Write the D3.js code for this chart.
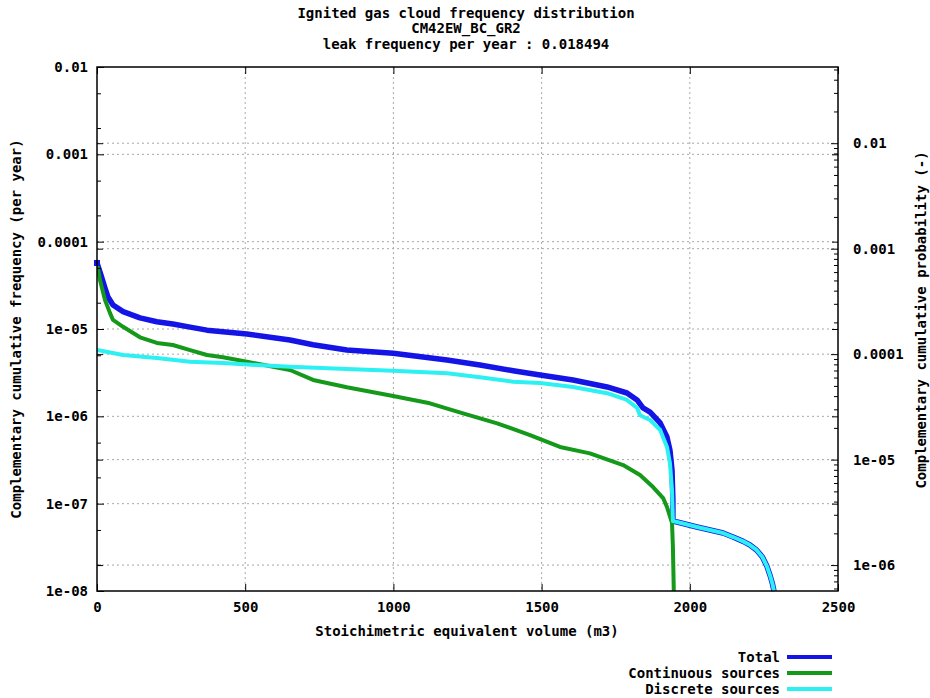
<!DOCTYPE html>
<html>
<head>
<meta charset="UTF-8">
<style>
body { margin: 0; background: #fff; }
text { font-family: "DejaVu Sans Mono", monospace; font-weight: bold; fill: #000; }
</style>
</head>
<body>
<svg width="930" height="698"></svg>
<script src="https://cdn.jsdelivr.net/npm/d3@7"></script>
<script>

// volume (m3), cumulative frequency (per year)
var totalData = [
  [0, 5.7e-5], [10, 4.5e-5], [27, 2.94e-5], [37, 2.32e-5], [54, 1.88e-5], [88, 1.58e-5],
  [145, 1.34e-5], [202, 1.21e-5], [256, 1.14e-5], [314, 1.05e-5], [371, 9.7e-6],
  [506, 8.77e-6], [651, 7.48e-6], [729, 6.6e-6], [843, 5.75e-6], [999, 5.27e-6], [1181, 4.42e-6],
  [1292, 3.87e-6], [1404, 3.33e-6], [1495, 2.97e-6], [1606, 2.61e-6], [1721, 2.17e-6],
  [1788, 1.85e-6], [1822, 1.54e-6], [1842, 1.25e-6], [1866, 1.12e-6], [1900, 8.4e-7],
  [1923, 5.8e-7], [1933, 4.11e-7], [1940, 2.43e-7], [1943, 1.1e-7], [1943, 6.32e-8],
  [1957, 6.17e-8], [2024, 5.41e-8], [2068, 4.99e-8], [2112, 4.61e-8], [2146, 4.15e-8],
  [2180, 3.7e-8], [2203, 3.36e-8], [2225, 2.95e-8], [2245, 2.45e-8], [2260, 1.93e-8],
  [2271, 1.5e-8], [2279, 1.2e-8], [2284, 1e-8]
];

var continuousData = [
  [0, 5.7e-5], [10, 3.64e-5], [27, 2.15e-5], [44, 1.52e-5], [54, 1.27e-5], [88, 1.06e-5],
  [145, 8.03e-6], [202, 6.92e-6], [256, 6.56e-6], [314, 5.74e-6], [371, 5.04e-6],
  [425, 4.74e-6], [506, 4.22e-6], [594, 3.7e-6], [651, 3.39e-6], [729, 2.61e-6],
  [843, 2.15e-6], [999, 1.71e-6], [1123, 1.41e-6], [1235, 1.08e-6], [1350, 8.32e-7],
  [1461, 6.11e-7], [1562, 4.46e-7], [1663, 3.77e-7], [1775, 2.77e-7], [1832, 2.13e-7],
  [1876, 1.55e-7], [1910, 1.16e-7], [1923, 9.16e-8], [1940, 6.01e-8], [1943, 3.19e-8],
  [1946, 1e-8]
];

var discreteData = [
  [0, 5.74e-6], [88, 5.04e-6], [202, 4.66e-6], [314, 4.22e-6], [425, 4.08e-6],
  [540, 3.87e-6], [651, 3.7e-6], [843, 3.48e-6], [999, 3.33e-6], [1181, 3.11e-6],
  [1292, 2.8e-6], [1404, 2.49e-6], [1495, 2.41e-6], [1606, 2.17e-6], [1721, 1.84e-6],
  [1788, 1.54e-6], [1822, 1.25e-6], [1832, 1.03e-6], [1866, 9.07e-7], [1900, 6.97e-7],
  [1923, 4.46e-7], [1933, 2.92e-7], [1940, 1.43e-7], [1943, 6.32e-8],
  [1957, 6.17e-8], [2024, 5.41e-8], [2068, 4.99e-8], [2112, 4.61e-8], [2146, 4.15e-8],
  [2180, 3.7e-8], [2203, 3.36e-8], [2225, 2.95e-8], [2245, 2.45e-8], [2260, 1.93e-8],
  [2271, 1.5e-8], [2279, 1.2e-8], [2284, 1e-8]
];

var xTicks = [0, 500, 1000, 1500, 2000, 2500];
var yLeftTicks = [1e-2, 1e-3, 1e-4, 1e-5, 1e-6, 1e-7, 1e-8];
var yLeftLabels = ["0.01", "0.001", "0.0001", "1e-05", "1e-06", "1e-07", "1e-08"];
var yRightTicks = [1e-2, 1e-3, 1e-4, 1e-5, 1e-6];
var yRightLabels = ["0.01", "0.001", "0.0001", "1e-05", "1e-06"];

var titleLines = ["Ignited gas cloud frequency distribution", "CM42EW_BC_GR2", "leak frequency per year : 0.018494"];
var seriesNames = ["Total", "Continuous sources", "Discrete sources"];
var seriesColors = ["#1414e6", "#15991a", "#2cf0f2"];
var seriesWidths = [5.5, 4, 4];

var svg = d3.select("svg");
var plotL = 97, plotR = 838, plotT = 67, plotB = 591;

var x = d3.scaleLinear().domain([0, 2500]).range([plotL, plotR]);
var yL = d3.scaleLog().domain([1e-8, 1e-2]).range([plotB, plotT]);
var yR = d3.scaleLog().domain([5.68e-7, 0.0528]).range([plotB, plotT]);

// minor ticks
function minors(lo, hi, mult) {
  var out = [];
  for (var e = Math.floor(Math.log10(lo)); e <= Math.ceil(Math.log10(hi)); e++) {
    mult.forEach(function(m) {
      var v = m * Math.pow(10, e);
      if (v > lo && v < hi) out.push(v);
    });
  }
  return out;
}

// grid
var grid = svg.append("g").attr("stroke", "#a8a8a8").attr("stroke-dasharray", "2,3").attr("stroke-width", 1);
xTicks.slice(1, -1).forEach(function(v) {
  grid.append("line").attr("x1", x(v)).attr("x2", x(v)).attr("y1", plotT).attr("y2", plotB);
});
yLeftTicks.slice(1, -1).forEach(function(v) {
  grid.append("line").attr("x1", plotL).attr("x2", plotR).attr("y1", yL(v)).attr("y2", yL(v));
});
yRightTicks.forEach(function(v) {
  grid.append("line").attr("x1", plotL).attr("x2", plotR).attr("y1", yR(v)).attr("y2", yR(v));
});

// curves
svg.append("clipPath").attr("id", "clip").append("rect")
  .attr("x", plotL).attr("y", plotT).attr("width", plotR - plotL).attr("height", plotB - plotT + 2);

var line = d3.line()
  .x(function(d) { return x(d[0]); })
  .y(function(d) { return yL(d[1]); });

[totalData, continuousData, discreteData].forEach(function(data, i) {
  svg.append("path")
    .datum(data)
    .attr("clip-path", "url(#clip)")
    .attr("fill", "none")
    .attr("stroke", seriesColors[i])
    .attr("stroke-width", seriesWidths[i])
    .attr("stroke-linejoin", "round")
    .attr("d", line);
});
svg.append("rect").attr("x", x(0) - 3).attr("y", yL(totalData[0][1]) - 3)
  .attr("width", 6).attr("height", 6).attr("fill", seriesColors[0]);

// axes
var fmtL = function(d) { return yLeftLabels[yLeftTicks.indexOf(d)]; };
var fmtR = function(d) { return yRightLabels[yRightTicks.indexOf(d)]; };

function styleAxis(g) {
  g.select(".domain").remove();
  g.selectAll("line").attr("stroke", "#000");
  g.selectAll("text").attr("font-size", 14).attr("font-family", "DejaVu Sans Mono").attr("font-weight", "bold");
}

svg.append("g").attr("transform", "translate(" + plotL + ",0)")
  .call(d3.axisLeft(yL).tickValues(yLeftTicks).tickFormat(fmtL).tickSize(-7).tickPadding(9))
  .call(styleAxis);
svg.append("g").attr("transform", "translate(" + plotL + ",0)")
  .call(d3.axisLeft(yL).tickValues(minors(1e-8, 1e-2, [2, 5])).tickFormat("").tickSize(-4))
  .call(styleAxis);
svg.append("g").attr("transform", "translate(" + plotL + ",0)")
  .call(d3.axisLeft(yR).tickValues(yRightTicks).tickFormat("").tickSize(-6))
  .call(styleAxis);

svg.append("g").attr("transform", "translate(" + plotR + ",0)")
  .call(d3.axisRight(yR).tickValues(yRightTicks).tickFormat(fmtR).tickSize(-7).tickPadding(15))
  .call(styleAxis);
svg.append("g").attr("transform", "translate(" + plotR + ",0)")
  .call(d3.axisRight(yR).tickValues(minors(5.68e-7, 0.0528, [2, 3, 4, 5, 6, 7, 8, 9])).tickFormat("").tickSize(-4))
  .call(styleAxis);
svg.append("g").attr("transform", "translate(" + plotR + ",0)")
  .call(d3.axisRight(yL).tickValues(yLeftTicks.slice(1, -1)).tickFormat("").tickSize(-6))
  .call(styleAxis);

svg.append("g").attr("transform", "translate(0," + plotB + ")")
  .call(d3.axisBottom(x).tickValues(xTicks).tickFormat(d3.format("d")).tickSize(-7).tickPadding(11))
  .call(styleAxis);
svg.append("g").attr("transform", "translate(0," + plotT + ")")
  .call(d3.axisTop(x).tickValues(xTicks).tickFormat("").tickSize(-7))
  .call(styleAxis);

// border
svg.append("rect").attr("x", plotL).attr("y", plotT).attr("width", plotR - plotL).attr("height", plotB - plotT)
  .attr("fill", "none").attr("stroke", "#000").attr("stroke-width", 1.5);

// titles
svg.selectAll(".title").data(titleLines).enter().append("text")
  .attr("x", 466).attr("y", function(d, i) { return 13 + i * 15.5; })
  .attr("dy", "0.35em").attr("text-anchor", "middle").attr("font-size", 14)
  .text(function(d) { return d; });

svg.append("text").attr("x", 467).attr("y", 631).attr("dy", "0.35em")
  .attr("text-anchor", "middle").attr("font-size", 14)
  .text("Stoichimetric equivalent volume (m3)");

svg.append("text").attr("transform", "translate(16,329) rotate(-90)").attr("dy", "0.35em")
  .attr("text-anchor", "middle").attr("font-size", 14)
  .text("Complementary cumulative frequency (per year)");

svg.append("text").attr("transform", "translate(921,320) rotate(-90)").attr("dy", "0.35em")
  .attr("text-anchor", "middle").attr("font-size", 14)
  .text("Complementary cumulative probability (-)");

// legend
var leg = svg.append("g");
seriesNames.forEach(function(name, i) {
  var yy = 657 + i * 16;
  leg.append("text").attr("x", 780).attr("y", yy).attr("dy", "0.35em")
    .attr("text-anchor", "end").attr("font-size", 14).text(name);
  leg.append("line").attr("x1", 787).attr("x2", 832).attr("y1", yy).attr("y2", yy)
    .attr("stroke", seriesColors[i]).attr("stroke-width", 4);
});

</script>
</body>
</html>
